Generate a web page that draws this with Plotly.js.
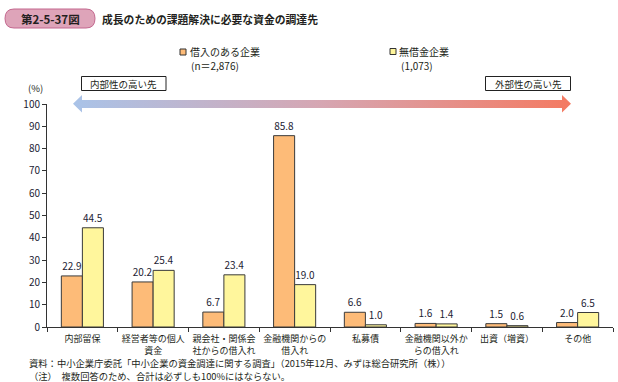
<!DOCTYPE html>
<html><head><meta charset="utf-8">
<script src="https://cdn.plot.ly/plotly-3.0.1.min.js"></script>
<style>html,body{margin:0;padding:0;background:#fff}#chart{width:618px;height:382px}</style>
</head><body><div id="chart"></div>
<script>
const categories = ['内部留保','経営者等の個人<br>資金','親会社・関係会<br>社からの借入れ','金融機関からの<br>借入れ','私募債','金融機関以外か<br>らの借入れ','出資（増資）','その他'];
const seriesNames = ['借入のある企業','無借金企業'];
const seriesN = ['(n＝2,876)','(1,073)'];
const borrowing = [22.9,20.2,6.7,85.8,6.6,1.6,1.5,2.0];
const debtFree = [44.5,25.4,23.4,19.0,1.0,1.4,0.6,6.5];
const yTicks = [0,10,20,30,40,50,60,70,80,90,100];

const W=618,H=382;
const FONT='"Noto Sans CJK JP", "Noto Sans", sans-serif';
const TXT='#231f20';
const orange='#fdbb78', yellow='#fff69c', edge='#3a3a3a';

const barCommon = {type:'bar', x:categories, texttemplate:'%{y:.1f}', textposition:'outside', textangle:0,
  cliponaxis:false, textfont:{family:FONT,size:10,color:'#1c2233'}, hoverinfo:'skip', showlegend:false};
const traces = [
  Object.assign({}, barCommon, {name:seriesNames[0], y:borrowing, marker:{color:orange,line:{color:edge,width:1}}}),
  Object.assign({}, barCommon, {name:seriesNames[1], y:debtFree, marker:{color:yellow,line:{color:edge,width:1}}}),
  {type:'scatter', mode:'lines', xaxis:'x2', yaxis:'y2', hoverinfo:'skip', showlegend:false,
   x:[73,82,82,562,562,571,562,562,82,82,73],
   y:[103.8,95,100,100,95,103.8,112.5,108,108,112.5,103.8],
   fill:'toself', line:{width:0,color:'rgba(0,0,0,0)'},
   fillgradient:{type:'horizontal', colorscale:[[0,'#a9c3e8'],[0.5,'#d6a6b2'],[1,'#f47a62']]}}
];

const shapes = [
  {type:'path', xref:'x2', yref:'y2', path:'M 14 9 L 86 9 Q 95 9 95 18.5 Q 95 28 86 28 L 14 28 Q 5 28 5 18.5 Q 5 9 14 9 Z',
   fillcolor:'#dea4b9', line:{color:'#c3678e',width:1}},
  {type:'rect', xref:'x2', yref:'y2', x0:81.5, x1:166, y0:76.5, y1:90.5, fillcolor:'#fff', line:{color:'#222',width:1}},
  {type:'rect', xref:'x2', yref:'y2', x0:485.5, x1:570.5, y0:76.5, y1:90.5, fillcolor:'#fff', line:{color:'#222',width:1}},
  {type:'rect', xref:'x2', yref:'y2', x0:180, x1:186, y0:49, y1:55, fillcolor:orange, line:{color:'#333',width:1}},
  {type:'rect', xref:'x2', yref:'y2', x0:390, x1:396, y0:48.5, y1:54.5, fillcolor:yellow, line:{color:'#333',width:1}}
];

function ann(x,y,text,size,opts){return Object.assign({xref:'x2',yref:'y2',x:x,y:y,text:text,showarrow:false,
  font:{family:FONT,size:size,color:TXT},xanchor:'left',yanchor:'middle'},opts||{});}
const annotations = [
  ann(50,18.5,'<b>第2-5-37図</b>',11.5,{xanchor:'center'}),
  ann(100,18.5,'<b>成長のための課題解決に必要な資金の調達先</b>',10.8),
  ann(188,51.5,seriesNames[0],10),
  ann(189,65,seriesN[0],10),
  ann(397,51.5,seriesNames[1],10),
  ann(399,65,seriesN[1],10),
  ann(123.75,83.5,'内部性の高い先',9.5,{xanchor:'center'}),
  ann(528,83.5,'外部性の高い先',9.5,{xanchor:'center'}),
  ann(35,88,'(%)',9.5,{xanchor:'center'}),
  ann(27,363,'資料：中小企業庁委託「中小企業の資金調達に関する調査」（2015年12月、みずほ総合研究所（株））',9.3),
  ann(27,376,'（注）　複数回答のため、合計は必ずしも100%にはならない。',9.3)
];

const layout = {
  width:W, height:H, margin:{l:0,r:0,t:0,b:0}, paper_bgcolor:'#fff', plot_bgcolor:'rgba(0,0,0,0)',
  barmode:'group', bargap:0.405, bargroupgap:0, showlegend:false,
  font:{family:FONT,color:TXT},
  xaxis:{domain:[47/W,613/W], anchor:'y', type:'category', showline:true, linecolor:'#333', linewidth:1,
    ticks:'outside', tickson:'boundaries', ticklen:4, tickcolor:'#333', showgrid:false, fixedrange:true, tickangle:0,
    ticklabelstandoff:3, tickfont:{family:FONT,size:9,color:TXT}, automargin:false},
  yaxis:{domain:[55/H,278/H], anchor:'x', range:[0,100], tickvals:yTicks, showline:true, linecolor:'#333', linewidth:1,
    ticks:'outside', ticklen:4, tickcolor:'#333', showgrid:false, zeroline:false, fixedrange:true,
    tickfont:{family:FONT,size:10,color:'#1c2233'}, automargin:false},
  xaxis2:{domain:[0,1], range:[0,W], anchor:'y2', visible:false, fixedrange:true},
  yaxis2:{domain:[0,1], range:[H,0], anchor:'x2', visible:false, fixedrange:true},
  shapes:shapes, annotations:annotations
};
Plotly.newPlot('chart', traces, layout, {staticPlot:true, displayModeBar:false});
</script></body></html>
